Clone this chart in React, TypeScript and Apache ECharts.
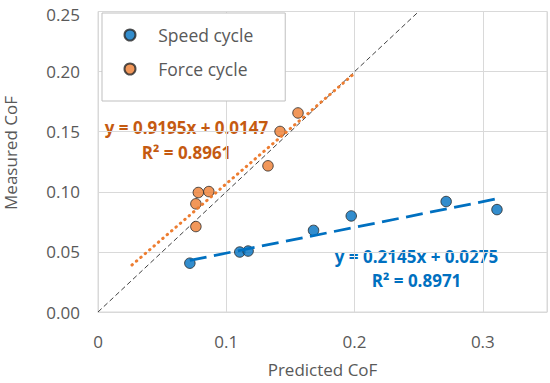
import React, { useEffect, useRef } from "react";
import * as echarts from "echarts";

const speedX = [0.0716, 0.1105, 0.117, 0.168, 0.1974, 0.2714, 0.311];
const speedY = [0.0406, 0.0499, 0.0507, 0.0679, 0.0799, 0.0919, 0.0852];
const forceX = [0.0763, 0.0763, 0.0782, 0.0864, 0.1325, 0.1419, 0.1559];
const forceY = [0.0711, 0.09, 0.0994, 0.1002, 0.1216, 0.1502, 0.1656];

const speedTrendX = [0.0716, 0.3115];
const speedTrendY = [0.0429, 0.0943];
const forceTrendX = [0.0265, 0.2];
const forceTrendY = [0.0391, 0.1986];
const diagX = [0, 0.25];
const diagY = [0, 0.25];

const seriesNames = ["Speed cycle", "Force cycle"];
const forceEq = ["y = 0.9195x + 0.0147", "R² = 0.8961"];
const speedEq = ["y = 0.2145x + 0.0275", "R² = 0.8971"];
const xTitle = "Predicted CoF";
const yTitle = "Measured CoF";

const FONT = "'Open Sans', 'Liberation Sans', sans-serif";
const GRAY = "#595959";
const BLUE = "#0070C0";
const ORANGE = "#ED7D31";
const ORANGE_TXT = "#C55A11";

const pairs = (xs: number[], ys: number[]) => xs.map((x, i) => [x, ys[i]]);

const eqText = (text: string, x: number, y: number, fill: string) => ({
  type: "text",
  x,
  y,
  style: {
    text,
    fontSize: 17,
    lineHeight: 17,
    fontWeight: "bold",
    fill,
    fontFamily: FONT,
    align: "center",
    verticalAlign: "middle",
  },
});

export default function App() {
  const ref = useRef<HTMLDivElement>(null);
  useEffect(() => {
    if (!ref.current) return;
    const chart = echarts.init(ref.current, null, { renderer: "svg" });
    chart.setOption({
      animation: false,
      grid: {
        left: 98,
        right: 3,
        top: 6,
        bottom: 65,
        show: true,
        borderColor: "#d9d9d9",
        borderWidth: 1,
      },
      xAxis: {
        type: "value",
        min: 0,
        max: 0.35,
        interval: 0.1,
        name: xTitle,
        nameLocation: "middle",
        nameGap: 49,
        nameTextStyle: { fontSize: 17, lineHeight: 17, color: GRAY, fontFamily: FONT },
        axisLine: { show: true, lineStyle: { color: "#d9d9d9" } },
        axisTick: { show: false },
        splitLine: { show: true, lineStyle: { color: "#d9d9d9" } },
        axisLabel: {
          margin: 21,
          fontSize: 17,
          lineHeight: 17,
          color: GRAY,
          fontFamily: FONT,
          formatter: (v: number) => (v > 0.31 ? "" : v === 0 ? "0" : v.toFixed(1)),
        },
      },
      yAxis: {
        type: "value",
        min: 0,
        max: 0.25,
        interval: 0.05,
        axisLine: { show: true, lineStyle: { color: "#d9d9d9" } },
        axisTick: { show: false },
        splitLine: { show: true, lineStyle: { color: "#d9d9d9" } },
        axisLabel: {
          margin: 18,
          fontSize: 17,
          lineHeight: 14,
          color: GRAY,
          fontFamily: FONT,
          formatter: (v: number) =>
            v > 0.24 ? `{top|${v.toFixed(2)}}` : v.toFixed(2),
          rich: {
            top: {
              fontSize: 17,
              lineHeight: 14,
              color: GRAY,
              fontFamily: FONT,
              padding: [6, 0, 0, 0],
            },
          },
        },
      },
      legend: {
        data: seriesNames,
        orient: "vertical",
        left: 102,
        top: 13,
        padding: [13, 32, 23, 21.5],
        itemWidth: 46.5,
        itemHeight: 11,
        itemGap: 16,
        backgroundColor: "#fff",
        borderColor: "#bfbfbf",
        borderWidth: 1,
        borderRadius: 0,
        textStyle: { fontSize: 17.5, color: GRAY, fontFamily: FONT },
      },
      graphic: [
        {
          type: "text",
          x: 10,
          y: 153,
          rotation: Math.PI / 2,
          style: {
            text: yTitle,
            fontSize: 17,
            lineHeight: 17,
            fill: GRAY,
            fontFamily: FONT,
            align: "center",
            verticalAlign: "middle",
          },
        },
        eqText(forceEq[0], 186.5, 127, ORANGE_TXT),
        eqText(forceEq[1], 186.5, 152, ORANGE_TXT),
        eqText(speedEq[0], 416.5, 256, BLUE),
        eqText(speedEq[1], 416.5, 280, BLUE),
      ],
      series: [
        {
          name: "diag",
          type: "line",
          data: pairs(diagX, diagY),
          symbol: "none",
          lineStyle: { color: "#404040", width: 1, type: [5, 3] },
          z: 2,
          silent: true,
        },
        {
          name: seriesNames[0],
          type: "scatter",
          data: pairs(speedX, speedY),
          symbol: "circle",
          symbolSize: 10.5,
          itemStyle: { color: BLUE, borderColor: "#262626", borderWidth: 1 },
          z: 3,
        },
        {
          name: seriesNames[1],
          type: "scatter",
          data: pairs(forceX, forceY),
          symbol: "circle",
          symbolSize: 10.5,
          itemStyle: { color: ORANGE, borderColor: "#262626", borderWidth: 1 },
          z: 3,
        },
        {
          name: "speedTrend",
          type: "line",
          data: pairs(speedTrendX, speedTrendY),
          symbol: "none",
          lineStyle: { color: BLUE, width: 2.75, type: [17, 7.5] },
          z: 4,
          silent: true,
        },
        {
          name: "forceTrend",
          type: "line",
          data: pairs(forceTrendX, forceTrendY),
          symbol: "none",
          lineStyle: { color: ORANGE, width: 3, type: [0.5, 5.3], cap: "round" },
          z: 4,
          silent: true,
        },
      ],
    });
    return () => chart.dispose();
  }, []);
  return (
    <div
      ref={ref}
      style={{ position: "fixed", left: 0, top: 0, width: 550, height: 383, background: "#fff" }}
    />
  );
}
